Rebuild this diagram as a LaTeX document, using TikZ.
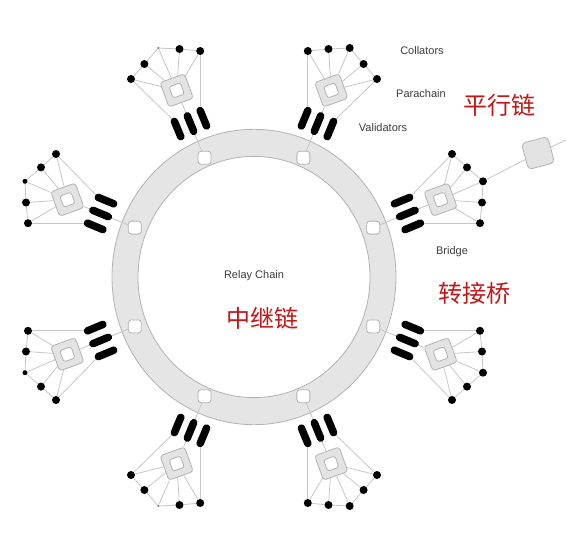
\documentclass[tikz,border=0pt]{standalone}
\usepackage{fontspec}
\setmainfont{Liberation Sans}
\newfontfamily\cjk{Noto Sans CJK SC}
\definecolor{cnred}{RGB}{192,24,24}
\definecolor{lbl}{RGB}{60,60,60}
\pgfdeclarelayer{ringlayer}
\pgfdeclarelayer{linelayer}
\pgfsetlayers{ringlayer,linelayer,main}
\tikzset{
  conn/.style={draw=gray!45, line width=0.8pt},
  bar/.style={line width=7.5pt, line cap=round, black},
  dot/.style={circle, fill=black, inner sep=0pt, minimum size=8pt},
  psq/.style={draw=gray!60, fill=gray!22, rounded corners=3pt, minimum size=26pt, inner sep=0pt, rotate=20, line width=0.8pt},
  psqin/.style={draw=gray!60, fill=white, rounded corners=2.5pt, minimum size=12pt, inner sep=0pt, rotate=20, line width=0.8pt},
  rnode/.style={draw=gray!60, fill=white, rounded corners=3pt, minimum size=13pt, inner sep=0pt, line width=0.8pt},
  bsq/.style={draw=gray!60, fill=gray!22, rounded corners=4pt, minimum size=27pt, inner sep=0pt, rotate=15, line width=0.8pt},
  lbltext/.style={text=lbl, font=\fontsize{11}{13}\selectfont},
  cntext/.style={text=cnred, font=\cjk\fontsize{24}{28}\selectfont},
  para/.pic={
    \node[rnode] (-rn) at (119.2,49.4) {};
    \coordinate (-b1i) at (140.3,73.2); \coordinate (-b1o) at (155.7,79.6);
    \coordinate (-b2i) at (145.7,60.3); \coordinate (-b2o) at (161.1,66.7);
    \coordinate (-b3i) at (151.0,47.4); \coordinate (-b3o) at (166.4,53.8);
    \node[psq] (-sq) at (186.6,77.3) {};
    \node[psqin] (-sqi) at (-sq) {};
    \node[dot] (-d1) at (198,123) {};
    \node[dot] (-d2) at (213,109.6) {};
    \node[dot,#1] (-d3) at (229,95.7) {};
    \node[dot] (-d4) at (228,74.5) {};
    \node[dot] (-d5) at (226,53.8) {};
    \draw[bar] (-b1i) -- (-b1o);
    \draw[bar] (-b2i) -- (-b2o);
    \draw[bar] (-b3i) -- (-b3o);
    \begin{pgfonlayer}{linelayer}
      \draw[conn] (-rn) -- (-sq);
      \draw[conn] (-sq) -- (-d1);
      \draw[conn] (-sq) -- (-d2);
      \draw[conn] (-sq) -- (-d3);
      \draw[conn] (-sq) -- (-d4);
      \draw[conn] (-sq) -- (-d5);
      \draw[conn] (-d1) -- (-d2) -- (-d3) -- (-d4) -- (-d5);
      \draw[conn] (-d1) -- (-b1o);
      \draw[conn] (-d5) -- (-b3o);
    \end{pgfonlayer}
  }
}
\begin{document}
\begin{tikzpicture}[x=1pt,y=1pt]
\useasboundingbox (-254,-265) rectangle (312,277);
\begin{scope}[yscale=1.04]
  \begin{pgfonlayer}{ringlayer}
    \fill[gray!20, even odd rule] (0,0) circle [radius=142] (0,0) circle [radius=116];
    \draw[gray!60, line width=0.8pt] (0,0) circle [radius=142] (0,0) circle [radius=116];
  \end{pgfonlayer}
  \pic (r) at (0,0) {para};
  \pic[yscale=-1] (rl) at (0,0) {para};
  \pic[xscale=-1] (l) at (0,0) {para={minimum size=5pt}};
  \pic[scale=-1] (ll) at (0,0) {para={minimum size=5pt}};
  \pic[cm={0,1,1,0,(0,0)}] (tr) at (0,0) {para};
  \pic[xscale=-1,cm={0,1,1,0,(0,0)}] (tl) at (0,0) {para={minimum size=2.5pt,fill=gray}};
  \pic[yscale=-1,cm={0,1,1,0,(0,0)}] (br) at (0,0) {para};
  \pic[scale=-1,cm={0,1,1,0,(0,0)}] (bl) at (0,0) {para={minimum size=2.5pt,fill=gray}};
  \node[bsq] (bridge) at (284,119.2) {};
  \coordinate (bridgeout) at (316,133.5);
  \begin{pgfonlayer}{linelayer}
    \draw[conn] (r-d3) -- (bridge);
    \draw[conn] (bridge) -- (bridgeout);
  \end{pgfonlayer}
\end{scope}
\node[lbltext] (collators) at (168,226) {Collators};
\node[lbltext] (parachain) at (167,183) {Parachain};
\node[lbltext] (validators) at (129,149) {Validators};
\node[cntext] (pxl) at (246,172) {平行链};
\node[lbltext] (bridgelbl) at (198,25) {Bridge};
\node[cntext] (zjq) at (221,-16) {转接桥};
\node[lbltext] (relay) at (0,1) {Relay Chain};
\node[cntext] (zjl) at (9,-41) {中继链};
\end{tikzpicture}
\end{document}
